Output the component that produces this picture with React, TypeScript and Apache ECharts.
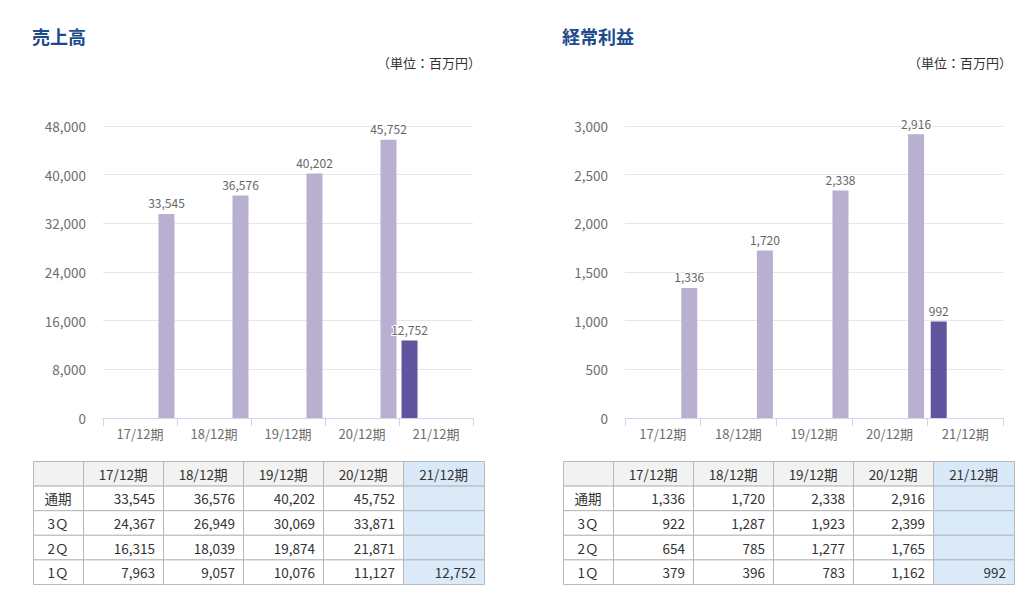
import React, { useEffect, useRef } from "react";
import * as echarts from "echarts";

const categories = ["17/12期", "18/12期", "19/12期", "20/12期", "21/12期"];
const rowLabels = ["通期", "3Ｑ", "2Ｑ", "1Ｑ"];

const salesAnnual = [33545, 36576, 40202, 45752, null];
const sales3Q = [24367, 26949, 30069, 33871, null];
const sales2Q = [16315, 18039, 19874, 21871, null];
const sales1Q = [7963, 9057, 10076, 11127, 12752];

const profitAnnual = [1336, 1720, 2338, 2916, null];
const profit3Q = [922, 1287, 1923, 2399, null];
const profit2Q = [654, 785, 1277, 1765, null];
const profit1Q = [379, 396, 783, 1162, 992];

const salesTitle = "売上高";
const profitTitle = "経常利益";
const unitText = "（単位：百万円）";

const JP = '"Noto Sans CJK JP", "Noto Sans", sans-serif';
const LIGHT = "#b8afd1";
const DARK = "#5f559f";
const TITLE = "#1c4a8d";

const fmt = (v: number | null) => (v == null ? "" : v.toLocaleString("en-US"));

function buildTable(x0: number, y0: number, colW: number[], rowH: number, rows: (number | null)[][]) {
  const els: any[] = [];
  const colX: number[] = [x0];
  colW.forEach((w) => colX.push(colX[colX.length - 1] + w));
  const nRows = rows.length + 1;
  for (let r = 0; r < nRows; r++) {
    for (let c = 0; c < colW.length; c++) {
      const isLast = c === colW.length - 1;
      let fill = "#ffffff";
      if (r === 0) fill = isLast ? "#d9e9f8" : "#f2f2f2";
      else if (isLast) fill = "#dbeaf9";
      els.push({
        type: "rect",
        shape: { x: colX[c] + 0.5, y: y0 + r * rowH + 0.5, width: colW[c], height: rowH },
        style: { fill, stroke: "#b8b8b8", lineWidth: 1 },
        silent: true,
      });
      let text = "";
      let align = "center";
      let tx = colX[c] + colW[c] / 2;
      if (r === 0) {
        text = c === 0 ? "" : categories[c - 1];
      } else if (c === 0) {
        text = rowLabels[r - 1];
      } else {
        text = fmt(rows[r - 1][c - 1]);
        align = "right";
        tx = colX[c + 1] - 8;
      }
      if (text) {
        els.push({
          type: "text",
          x: tx,
          y: y0 + r * rowH + rowH / 2 + 0.5,
          style: {
            text,
            fill: "#333333",
            font: `13.5px ${JP}`,
            align,
            verticalAlign: "middle",
          },
          silent: true,
        });
      }
    }
  }
  return els;
}

function barSeries(idx: number, annual: (number | null)[], q1: (number | null)[]) {
  const label = {
    show: true,
    position: "top",
    distance: 5,
    color: "#666666",
    fontSize: 12,
    fontFamily: JP,
    textBorderColor: "#ffffff",
    textBorderWidth: 2,
    formatter: (p: any) => fmt(p.value),
  };
  return [
    {
      type: "bar",
      xAxisIndex: idx,
      yAxisIndex: idx,
      data: q1.map((v, i) => (i === q1.length - 1 ? v : null)),
      barWidth: 16,
      barGap: "231%",
      itemStyle: { color: DARK },
      label,
    },
    {
      type: "bar",
      xAxisIndex: idx,
      yAxisIndex: idx,
      data: annual,
      barWidth: 16,
      barGap: "231%",
      itemStyle: { color: LIGHT },
      label,
    },
  ];
}

function xAxis(gridIndex: number) {
  return {
    type: "category",
    gridIndex,
    data: categories,
    axisLine: { lineStyle: { color: "#ccd6eb", width: 1 } },
    axisTick: { show: true, length: 8, lineStyle: { color: "#ccd6eb" } },
    axisLabel: { color: "#6e6e6e", fontSize: 13, fontFamily: JP, margin: 9 },
  };
}

function yAxis(gridIndex: number, max: number, interval: number) {
  return {
    type: "value",
    gridIndex,
    min: 0,
    max,
    interval,
    axisLine: { show: false },
    axisTick: { show: false },
    splitLine: { lineStyle: { color: "#e6e6e6" } },
    axisLabel: {
      color: "#6e6e6e",
      fontSize: 13.5,
      fontFamily: JP,
      margin: 17,
      formatter: (v: number) => v.toLocaleString("en-US"),
    },
  };
}

export default function App() {
  const ref = useRef<HTMLDivElement>(null);
  useEffect(() => {
    if (!ref.current) return;
    const chart = echarts.init(ref.current, undefined, { renderer: "svg" });
    const graphic: any[] = [
      { type: "text", x: 32, y: 36, style: { text: salesTitle, fill: TITLE, font: `bold 18px ${JP}`, verticalAlign: "middle" } },
      { type: "text", x: 481, y: 62, style: { text: unitText, fill: "#333333", font: `13px ${JP}`, align: "right", verticalAlign: "middle" } },
      { type: "text", x: 562, y: 36, style: { text: profitTitle, fill: TITLE, font: `bold 18px ${JP}`, verticalAlign: "middle" } },
      { type: "text", x: 1012, y: 62, style: { text: unitText, fill: "#333333", font: `13px ${JP}`, align: "right", verticalAlign: "middle" } },
      ...buildTable(33, 461, [50, 80, 80, 80, 80, 81], 24.6, [salesAnnual, sales3Q, sales2Q, sales1Q]),
      ...buildTable(563, 461, [50, 80, 80, 80, 80, 81], 24.6, [profitAnnual, profit3Q, profit2Q, profit1Q]),
    ];
    chart.setOption({
      animation: false,
      backgroundColor: "#ffffff",
      grid: [
        { left: 103, right: 1024 - 473, top: 126, bottom: 592 - 418 },
        { left: 625, right: 1024 - 1003, top: 126, bottom: 592 - 418 },
      ],
      xAxis: [xAxis(0), xAxis(1)],
      yAxis: [yAxis(0, 48000, 8000), yAxis(1, 3000, 500)],
      series: [...barSeries(0, salesAnnual, sales1Q), ...barSeries(1, profitAnnual, profit1Q)],
      graphic,
    });
    return () => chart.dispose();
  }, []);
  return <div ref={ref} style={{ position: "fixed", left: 0, top: 0, width: 1024, height: 592 }} />;
}
